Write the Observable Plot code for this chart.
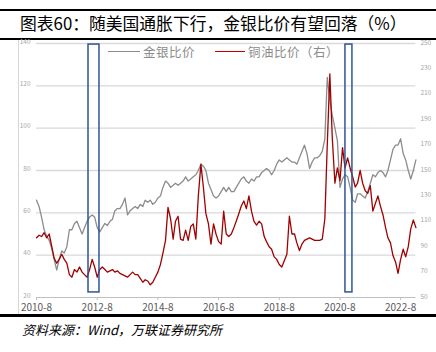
<!DOCTYPE html>
<html><head><meta charset="utf-8">
<script src="https://cdn.jsdelivr.net/npm/d3@7"></script>
<script src="https://cdn.jsdelivr.net/npm/@observablehq/plot@0.6"></script>
<style>
body{margin:0;background:#fff;width:436px;height:352px;overflow:hidden;font-family:"Noto Sans CJK SC","Noto Sans",sans-serif;}
#wrap{position:relative;width:436px;height:352px;}
.rule{position:absolute;left:0;width:436px;background:#000;}
#title{position:absolute;left:20px;top:12px;font-size:16.8px;line-height:22px;color:#000;white-space:nowrap;}
#chart{position:absolute;left:0;top:40px;}
#frame{position:absolute;left:18px;top:40px;width:1px;height:274px;background:#d6d6d6;}
#source{position:absolute;left:22px;top:321px;font-size:13px;line-height:18px;font-style:italic;color:#000;white-space:nowrap;}
.leg{position:absolute;top:44px;font-size:12.5px;line-height:16px;color:#8c8c8c;white-space:nowrap;letter-spacing:0.5px;}
.sw{position:absolute;top:51px;height:1.3px;}
</style></head>
<body><div id="wrap">
<div class="rule" style="top:9px;height:2px"></div>
<div id="title">图表60：随美国通胀下行，金银比价有望回落（%）</div>
<div class="rule" style="top:38px;height:2px"></div>
<div id="frame"></div>
<div id="chart"></div>
<div class="sw" style="left:108px;width:32px;background:#8c8c8c"></div>
<div class="leg" style="left:143px">金银比价</div>
<div class="sw" style="left:215px;width:30px;background:#c00000"></div>
<div class="leg" style="left:248px">铜油比价（右）</div>
<div class="rule" style="top:314px;height:2.5px"></div>
<div id="source">资料来源：Wind，万联证券研究所</div>
</div>
<script>
// monthly observations starting 2010-08
const startYear = 2010, startMonth = 7;
const goldSilver = [66,63,58,52,49,47,43,38,33,38,42,41,44,52,52,55,56,53,50,53,56,58,59,58,53,51,53,55,54,56,57,61,62,62,64,67,59,61,62,63,62,64,63,66,65,66,64,65,67,68,72,75,74,72,73,74,73,74,75,77,75,76,77,78,80,83,82,80,74,71,68,67,68,70,72,70,72,70,70,72,74,76,77,75,74,76,75,77,77,79,80,81,80,78,80,83,85,84,85,86,85,84,84,83,86,89,92,88,81,84,86,86,87,89,95,124,113,106,100,94,72,76,78,77,72,66,65,69,69,68,67,70,74,78,77,79,80,79,77,80,85,90,92,92,95,88,85,80,76,80,85];
const copperOil = [97,99,98,101,97,100,90,81,77,80,84,80,77,68,66,72,70,74,70,68,66,72,80,74,66,72,74,72,70,71,72,70,71,69,68,67,66,68,70,68,68,65,62,64,63,60,62,66,70,76,85,95,121,112,96,110,114,96,95,103,95,106,108,96,130,155,136,116,108,92,108,100,94,92,118,100,98,100,105,110,116,122,126,120,130,118,110,107,110,108,98,94,90,88,82,80,76,74,79,84,114,100,100,93,87,92,95,96,97,96,95,95,95,96,112,170,226,175,140,152,142,168,152,160,152,145,137,140,150,140,134,132,138,118,124,130,122,115,105,97,93,83,78,69,80,88,82,90,104,111,105];
const leftTicks = [20,40,60,80,100,120,140];
const rightTicks = [50,70,90,110,130,150,170,190,210,230,250];
const xTickLabels = ["2010-8","2012-8","2014-8","2016-8","2018-8","2020-8","2022-8"];
const shadeStart = ["2012-04-18","2020-10-06"];
const shadeEnd = ["2012-08-28","2020-12-29"];
const shadeLow = 22.4, shadeHigh = 139.5;

const toLeft = r => 20 + (r - 50) * 120 / 200;
const monthDate = i => new Date(Date.UTC(startYear, startMonth + i, 1));
const gsData = goldSilver.map((v, i) => ({date: monthDate(i), v}));
const coData = copperOil.map((v, i) => ({date: monthDate(i), v: toLeft(v)}));
const parseLabel = s => { const [y, m] = s.split("-").map(Number); return new Date(Date.UTC(y, m - 1, 1)); };
const xTicks = xTickLabels.map(parseLabel);
const shades = shadeStart.map((s, i) => ({x1: new Date(s), x2: new Date(shadeEnd[i]), y1: shadeLow, y2: shadeHigh}));

const chart = Plot.plot({
  width: 436, height: 274,
  marginTop: 3, marginBottom: 17, marginLeft: 36, marginRight: 20.6,
  style: {fontFamily: '"Noto Sans CJK SC","Noto Sans",sans-serif', background: "transparent", overflow: "visible"},
  x: {type: "utc", domain: [new Date(Date.UTC(2010, 7, 1)), new Date(Date.UTC(2023, 1, 1))]},
  y: {domain: [20, 140]},
  marks: [
    Plot.ruleY(leftTicks.filter(d => d > 20), {stroke: "#d9d9d9", strokeWidth: 1.4}),
    Plot.ruleY([20], {stroke: "#bfbfbf", strokeWidth: 1}),
    Plot.axisY(leftTicks, {anchor: "left", tickSize: 0, tickPadding: 6, fontSize: 6.5, fill: "#a6a6a6", label: null, dy: -2}),
    Plot.axisY(rightTicks.map(toLeft), {anchor: "right", tickSize: 0, tickPadding: 4.5, fontSize: 6.5, fill: "#a6a6a6", label: null, dy: -1,
      tickFormat: d => String(Math.round(50 + (d - 20) * 200 / 120))}),
    Plot.axisX(xTicks, {tickSize: 3, tickPadding: 3.2, fontSize: 10, fill: "#595959", stroke: "#bfbfbf", label: null,
      tickFormat: d => `${d.getUTCFullYear()}-${d.getUTCMonth() + 1}`}),
    Plot.line(gsData, {x: "date", y: "v", stroke: "#8c8c8c", strokeWidth: 1.3}),
    Plot.line(coData, {x: "date", y: "v", stroke: "#a00000", strokeWidth: 1.3}),
    Plot.rect(shades, {x1: "x1", x2: "x2", y1: "y1", y2: "y2", fill: "none", stroke: "#2f5597", strokeWidth: 1.5})
  ]
});
document.getElementById("chart").appendChild(chart);
</script>
</body></html>
